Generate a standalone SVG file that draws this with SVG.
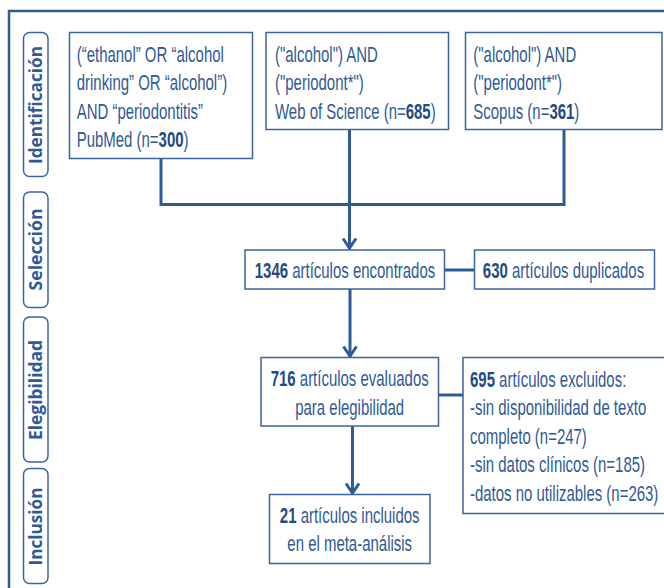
<svg xmlns="http://www.w3.org/2000/svg" width="664" height="588" viewBox="0 0 664 588">
<style>
.frame{fill:none;stroke:#2f5a96;stroke-width:2.5}
.tab{fill:#fff;stroke:#3a65a0;stroke-width:1.5}
.tabt{font-family:"Open Sans","DejaVu Sans",sans-serif;font-weight:700;font-size:17.5px;fill:#2f5a96;text-anchor:middle}
.box{fill:#fff;stroke:#3a65a0;stroke-width:1.5}
.t{font-family:"Liberation Sans",Arial,sans-serif;font-size:21.5px;fill:#2f5a96}
.c{text-anchor:middle}
.b{font-weight:700;fill:#234a85}
.con{fill:none;stroke:#2f5a96;stroke-width:3}
</style>
<defs>
<marker id="ah" markerUnits="userSpaceOnUse" markerWidth="18" markerHeight="18" viewBox="-15 -9 18 18" refX="0" refY="0" orient="auto">
<path d="M-11,-6.5 L-1.5,0 L-11,6.5" fill="none" stroke="#2f5a96" stroke-width="3"/>
</marker>
</defs>
<rect width="664" height="588" fill="#fff"/>
<rect class="frame" x="9" y="11" width="670" height="600"/>

<g id="tab-identificacion">
<rect class="tab" x="23.5" y="32.5" width="24.5" height="144" rx="6"/>
<text class="tabt" transform="translate(41.5,105) rotate(-90)" textLength="118" lengthAdjust="spacingAndGlyphs">Identificación</text>
</g>
<g id="tab-seleccion">
<rect class="tab" x="23.5" y="192" width="24.5" height="115.5" rx="6"/>
<text class="tabt" transform="translate(41.5,249.5) rotate(-90)" textLength="82" lengthAdjust="spacingAndGlyphs">Selección</text>
</g>
<g id="tab-elegibilidad">
<rect class="tab" x="23.5" y="317" width="24.5" height="145" rx="6"/>
<text class="tabt" transform="translate(41.5,390) rotate(-90)" textLength="100" lengthAdjust="spacingAndGlyphs">Elegibilidad</text>
</g>
<g id="tab-inclusion">
<rect class="tab" x="23.5" y="468.5" width="24.5" height="115" rx="6"/>
<text class="tabt" transform="translate(41.5,526.5) rotate(-90)" textLength="78" lengthAdjust="spacingAndGlyphs">Inclusión</text>
</g>

<g id="connectors">
<path class="con" d="M161,158 V204.5 H564 V129.5"/>
<path class="con" d="M349.5,129.5 V249.5" marker-end="url(#ah)"/>
<path class="con" d="M350,289 V357.5" marker-end="url(#ah)"/>
<path class="con" d="M352.5,426 V494.5" marker-end="url(#ah)"/>
<path class="con" d="M444.5,270 H474.5"/>
<path class="con" d="M438.5,395 H463"/>
</g>

<g id="pubmed">
<rect class="box" x="69.5" y="32.5" width="183" height="126"/>
<text class="t" transform="matrix(0.696 0 0 1 76.7 61.5)">(“ethanol” OR “alcohol</text>
<text class="t" transform="matrix(0.696 0 0 1 76.7 90)">drinking” OR “alcohol”)</text>
<text class="t" transform="matrix(0.696 0 0 1 76.7 118.5)">AND “periodontitis”</text>
<text class="t" transform="matrix(0.696 0 0 1 76.7 147)">PubMed (n=<tspan class="b">300</tspan>)</text>
</g>

<g id="wos">
<rect class="box" x="266" y="32.5" width="182.5" height="97"/>
<text class="t" transform="matrix(0.696 0 0 1 275 61.5)">("alcohol") AND</text>
<text class="t" transform="matrix(0.696 0 0 1 275 90)">("periodont*")</text>
<text class="t" transform="matrix(0.696 0 0 1 275 118.5)">Web of Science (n=<tspan class="b">685</tspan>)</text>
</g>

<g id="scopus">
<rect class="box" x="465.5" y="32.5" width="196.5" height="97"/>
<text class="t" transform="matrix(0.696 0 0 1 473.3 61.5)">("alcohol") AND</text>
<text class="t" transform="matrix(0.696 0 0 1 473.3 90)">("periodont*")</text>
<text class="t" transform="matrix(0.696 0 0 1 473.3 118.5)">Scopus (n=<tspan class="b">361</tspan>)</text>
</g>

<g id="encontrados">
<rect class="box" x="245" y="250" width="199.5" height="39"/>
<text class="t c" transform="matrix(0.696 0 0 1 345 278)"><tspan class="b">1346</tspan> artículos encontrados</text>
</g>

<g id="duplicados">
<rect class="box" x="474.5" y="250" width="180" height="39"/>
<text class="t c" transform="matrix(0.696 0 0 1 563.5 278)"><tspan class="b">630</tspan> artículos duplicados</text>
</g>

<g id="evaluados">
<rect class="box" x="261" y="357.5" width="177.5" height="68.5"/>
<text class="t c" transform="matrix(0.696 0 0 1 349.7 386)"><tspan class="b">716</tspan> artículos evaluados</text>
<text class="t c" transform="matrix(0.696 0 0 1 349.7 414.5)">para elegibilidad</text>
</g>

<g id="excluidos">
<rect class="box" x="463" y="357.5" width="205" height="156"/>
<text class="t" transform="matrix(0.696 0 0 1 470 386.5)"><tspan class="b">695</tspan> artículos excluidos:</text>
<text class="t" transform="matrix(0.696 0 0 1 470 415)">-sin disponibilidad de texto</text>
<text class="t" transform="matrix(0.696 0 0 1 470 443.5)">completo (n=247)</text>
<text class="t" transform="matrix(0.696 0 0 1 470 472)">-sin datos clínicos (n=185)</text>
<text class="t" transform="matrix(0.696 0 0 1 470 500.5)">-datos no utilizables (n=263)</text>
</g>

<g id="incluidos">
<rect class="box" x="269.5" y="494.5" width="160.5" height="69"/>
<text class="t c" transform="matrix(0.696 0 0 1 349.7 522.5)"><tspan class="b">21</tspan> artículos incluidos</text>
<text class="t c" transform="matrix(0.696 0 0 1 349.7 551)">en el meta-análisis</text>
</g>
</svg>
